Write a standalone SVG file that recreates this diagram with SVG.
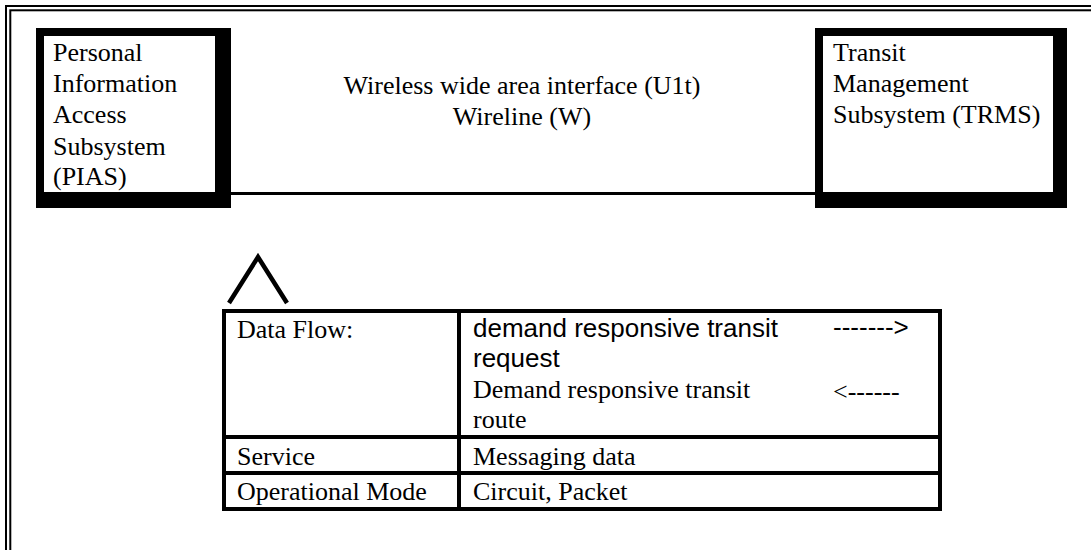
<svg xmlns="http://www.w3.org/2000/svg" width="1091" height="550" viewBox="0 0 1091 550">
<style>
.serif{font-family:"Liberation Serif","Times New Roman",serif;font-size:26px;fill:#000}
.sans{font-family:"Liberation Sans",Arial,sans-serif;font-size:26px;fill:#000}
.frame{fill:none;stroke:#000;stroke-width:2}
.cell{fill:none;stroke:#000;stroke-width:4}
.conn{fill:none;stroke:#000}
</style>
<rect width="1091" height="550" fill="#fff"/>
<g id="frame">
<rect class="frame" x="6" y="6" width="1100" height="560"/>
<rect class="frame" x="10.3" y="10.3" width="1100" height="560"/>
</g>
<g id="connectors">
<line class="conn" x1="215" y1="193.5" x2="823" y2="193.5" stroke-width="3"/>
<polyline class="conn" points="229,303 258,257 287,303" stroke-width="4.5" stroke-linejoin="miter"/>
</g>
<g id="interface-label">
<text class="serif" x="522" y="94" text-anchor="middle">Wireless wide area interface (U1t)</text>
<text class="serif" x="522" y="125" text-anchor="middle">Wireline (W)</text>
</g>
<g id="pias">
<rect x="36" y="28" width="195" height="180" fill="#000"/>
<rect x="44" y="36" width="171" height="156" fill="#fff"/>
<text class="serif" x="53" y="61">Personal</text>
<text class="serif" x="53" y="92">Information</text>
<text class="serif" x="53" y="123">Access</text>
<text class="serif" x="53" y="155">Subsystem</text>
<text class="serif" x="53" y="185">(PIAS)</text>
</g>
<g id="trms">
<rect x="815" y="28" width="252" height="180" fill="#000"/>
<rect x="823" y="36" width="230" height="156" fill="#fff"/>
<text class="serif" x="833" y="61">Transit</text>
<text class="serif" x="833" y="92">Management</text>
<text class="serif" x="833" y="123">Subsystem (TRMS)</text>
</g>
<g id="table">
<rect class="cell" x="224" y="311" width="716" height="198" fill="#fff"/>
<line class="cell" x1="459" y1="311" x2="459" y2="509"/>
<line class="cell" x1="224" y1="437" x2="940" y2="437"/>
<line class="cell" x1="224" y1="473" x2="940" y2="473"/>
<text class="serif" x="237" y="338">Data Flow:</text>
<text class="sans" x="473" y="337">demand responsive transit</text>
<text class="sans" x="473" y="367">request</text>
<text class="sans" x="833" y="336">-------&gt;</text>
<text class="serif" x="473" y="398">Demand responsive transit</text>
<text class="serif" x="473" y="428">route</text>
<text class="serif" x="833" y="400">&lt;------</text>
<text class="serif" x="237" y="465">Service</text>
<text class="serif" x="473" y="465">Messaging data</text>
<text class="serif" x="237" y="500">Operational Mode</text>
<text class="serif" x="473" y="500">Circuit, Packet</text>
</g>
</svg>
